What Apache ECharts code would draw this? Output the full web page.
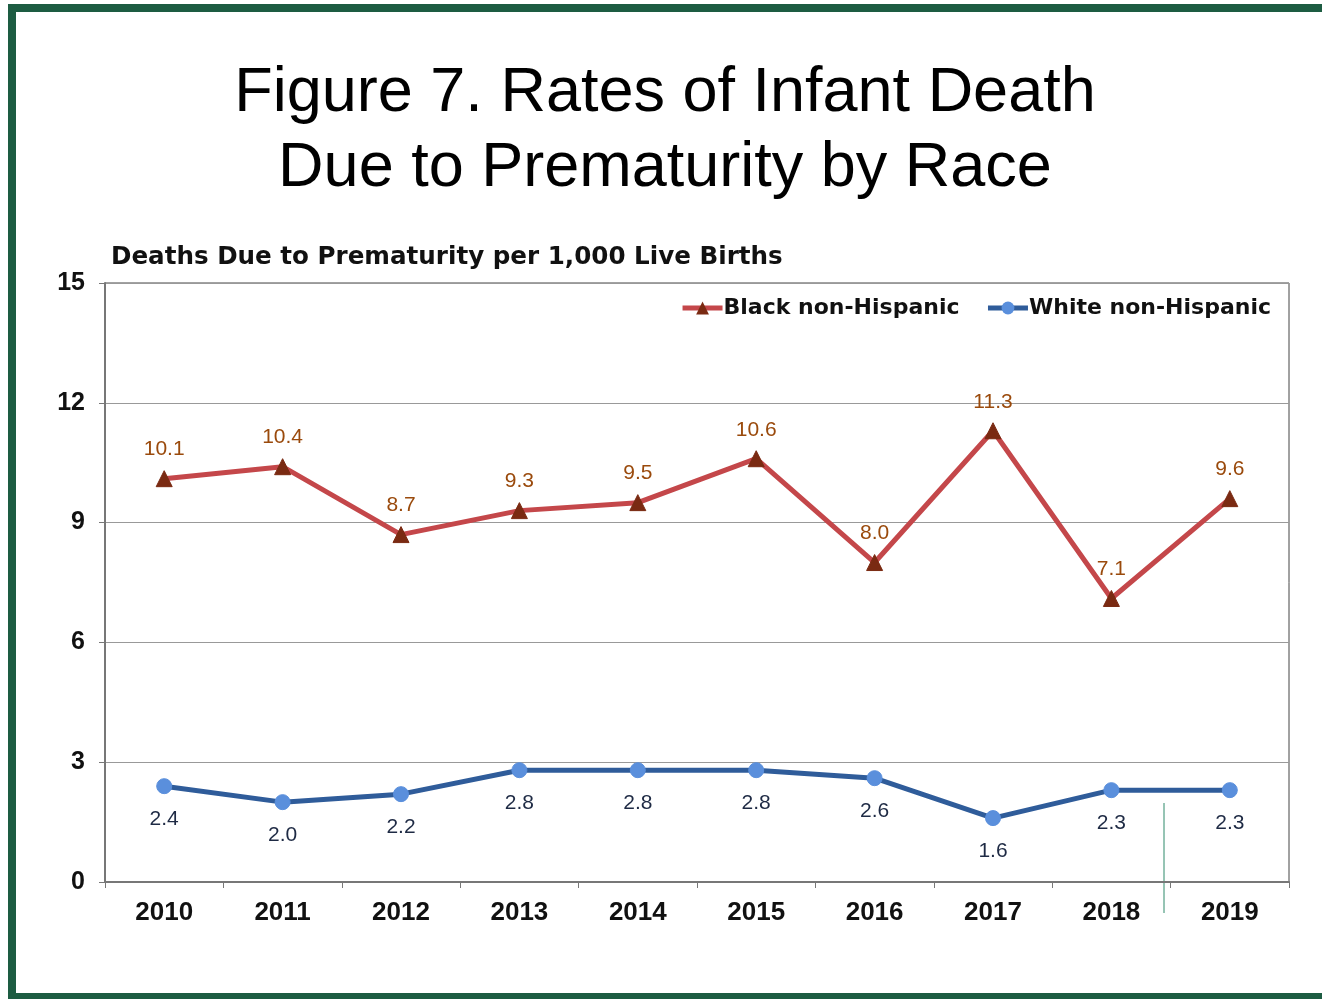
<!DOCTYPE html>
<html>
<head>
<meta charset="utf-8">
<script src="https://cdn.jsdelivr.net/npm/echarts@6/dist/echarts.min.js"></script>
<style>
html,body{margin:0;padding:0;background:#fff;}
#myEchart{position:absolute;left:0;top:0;width:1322px;height:999px;}
.frame{position:absolute;left:8px;top:4px;width:1330px;height:981px;border:8px solid #1d5c42;border-right:none;pointer-events:none;}
</style>
</head>
<body>
<div id="myEchart"></div>
<div class="frame"></div>
<script>
// data
var years = ['2010','2011','2012','2013','2014','2015','2016','2017','2018','2019'];
var blackRates = [10.1, 10.4, 8.7, 9.3, 9.5, 10.6, 8.0, 11.3, 7.1, 9.6];
var whiteRates = [2.4, 2.0, 2.2, 2.8, 2.8, 2.8, 2.6, 1.6, 2.3, 2.3];

var wideFont = 'DejaVu Sans, Liberation Sans, sans-serif';

var myechart = echarts.init(document.getElementById('myEchart'));
var option = {
    animation: false,
    backgroundColor: '#fff',
    textStyle: { fontFamily: 'Liberation Sans, Arial, sans-serif' },
    title: [
        {
            text: 'Figure 7. Rates of Infant Death\nDue to Prematurity by Race',
            left: 660,
            textAlign: 'center',
            top: 51,
            textStyle: { fontSize: 63, fontWeight: 'normal', color: '#000', lineHeight: 75 }
        },
        {
            text: 'Deaths Due to Prematurity per 1,000 Live Births',
            left: 106,
            top: 240,
            textStyle: { fontSize: 24.6, fontWeight: 'bold', color: '#111', fontFamily: wideFont }
        }
    ],
    legend: {
        right: 46,
        top: 292,
        itemGap: 26,
        itemWidth: 40,
        itemHeight: 16,
        lineStyle: { width: 5 },
        textStyle: { fontSize: 22, fontWeight: 'bold', color: '#111', fontFamily: wideFont, padding: [0, 0, 0, -4] },
        data: ['Black non-Hispanic', 'White non-Hispanic']
    },
    grid: {
        left: 105, right: 33, top: 283, bottom: 117,
        show: true, borderColor: '#444', borderWidth: 1
    },
    xAxis: {
        type: 'category',
        data: years,
        boundaryGap: true,
        axisLine: { lineStyle: { color: '#777', width: 2 } },
        axisTick: { show: true, inside: false, length: 6, lineStyle: { color: '#777' } },
        axisLabel: { fontSize: 26, fontWeight: 'bold', color: '#111', margin: 18 }
    },
    yAxis: {
        type: 'value',
        min: 0, max: 15, interval: 3,
        axisLine: { show: true, lineStyle: { color: '#777', width: 2 } },
        axisTick: { show: true, length: 6, lineStyle: { color: '#777' } },
        splitLine: { lineStyle: { color: '#999', width: 1 } },
        axisLabel: { fontSize: 25, fontWeight: 'bold', color: '#111', margin: 20 }
    },
    series: [
        {
            name: 'Black non-Hispanic',
            type: 'line',
            data: blackRates,
            symbol: 'triangle',
            symbolSize: 16,
            lineStyle: { color: '#c4474a', width: 5 },
            itemStyle: { color: '#7a2a12', borderColor: '#7a2a12' },
            label: {
                show: true, position: 'top', distance: 10,
                fontSize: 21, color: '#9a4a0c',
                formatter: function (p) { return p.value.toFixed(1); }
            }
        },
        {
            name: 'White non-Hispanic',
            type: 'line',
            data: whiteRates,
            symbol: 'circle',
            symbolSize: 15,
            lineStyle: { color: '#2f5c9a', width: 5 },
            itemStyle: { color: '#5a8fdc', borderColor: '#5a8fdc' },
            label: {
                show: true, position: 'bottom', distance: 15,
                fontSize: 21, color: '#1e2a44',
                formatter: function (p) { return p.value.toFixed(1); }
            }
        }
    ],
    graphic: [
        {
            type: 'line',
            shape: { x1: 1164, y1: 803, x2: 1164, y2: 913 },
            style: { stroke: '#2e8a6a', lineWidth: 1 }
        }
    ]
};
myechart.setOption(option);
</script>
</body>
</html>
